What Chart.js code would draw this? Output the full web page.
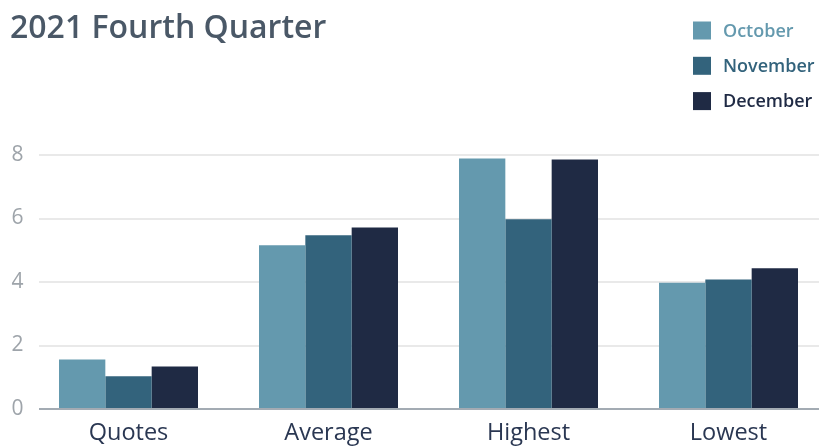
<!DOCTYPE html>
<html>
<head>
<meta charset="utf-8">
<script src="https://cdn.jsdelivr.net/npm/chart.js@4.4.0/dist/chart.umd.min.js"></script>
<style>
  html, body { margin: 0; padding: 0; background: #fff; overflow: hidden; }
  #wrap { width: 840px; height: 446px; }
</style>
</head>
<body>
<div id="wrap"><canvas id="q4-chart"></canvas></div>
<script>
// chart data
const categories = ['Quotes', 'Average', 'Highest', 'Lowest'];
const october = [1.56, 5.16, 7.89, 3.98];
const november = [1.03, 5.47, 5.98, 4.08];
const december = [1.34, 5.72, 7.86, 4.43];
const yTicks = [0, 2, 4, 6, 8];

const FONT = '"Open Sans", "Noto Sans", sans-serif';

// grid lines start a bit right of the plot's left edge, like the original
const gridPlugin = {
  id: 'customGrid',
  beforeDatasetsDraw(chart) {
    const { ctx, chartArea, scales } = chart;
    ctx.save();
    ctx.strokeStyle = '#e9e9e9';
    ctx.lineWidth = 2;
    yTicks.forEach(v => {
      if (v === 0) return;
      const y = Math.round(scales.y.getPixelForValue(v));
      ctx.beginPath();
      ctx.moveTo(39, y);
      ctx.lineTo(chartArea.right, y);
      ctx.stroke();
    });
    ctx.restore();
  },
  afterDatasetsDraw(chart) {
    const { ctx, chartArea, scales } = chart;
    const y = Math.round(scales.y.getPixelForValue(0));
    ctx.save();
    ctx.strokeStyle = '#a3abb3';
    ctx.lineWidth = 2;
    ctx.beginPath();
    ctx.moveTo(39, y);
    ctx.lineTo(chartArea.right, y);
    ctx.stroke();
    ctx.restore();
  }
};

// stacked legend in the top right corner
const legendPlugin = {
  id: 'stackLegend',
  afterDraw(chart) {
    const { ctx } = chart;
    ctx.save();
    ctx.font = '600 18px ' + FONT;
    ctx.textBaseline = 'middle';
    ctx.textAlign = 'left';
    chart.data.datasets.forEach((ds, i) => {
      const cy = 30.5 + i * 35.3;
      ctx.fillStyle = ds.backgroundColor;
      ctx.fillRect(693, cy - 9, 18, 18);
      ctx.fillText(ds.label, 723, cy + 1);
    });
    ctx.restore();
  }
};

new Chart(document.getElementById('q4-chart'), {
  type: 'bar',
  data: {
    labels: categories,
    datasets: [
      { label: 'October', data: october, backgroundColor: '#6499ae' },
      { label: 'November', data: november, backgroundColor: '#33637c' },
      { label: 'December', data: december, backgroundColor: '#1f2a44' }
    ]
  },
  options: {
    responsive: true,
    maintainAspectRatio: false,
    animation: false,
    layout: { padding: { left: 10, right: 11.5, top: 0, bottom: 0 } },
    datasets: {
      bar: { categoryPercentage: 0.695, barPercentage: 1.0, borderWidth: 0 }
    },
    plugins: {
      legend: { display: false },
      tooltip: { enabled: false },
      title: {
        display: true,
        text: '2021 Fourth Quarter',
        align: 'start',
        color: '#4a5867',
        font: { family: FONT, size: 32, weight: '600', lineHeight: 1.2 },
        padding: { top: 10, bottom: 106.6 }
      }
    },
    scales: {
      x: {
        grid: { display: false, drawTicks: false },
        border: { display: false },
        ticks: {
          color: '#2a3752',
          padding: 10,
          font: { family: FONT, size: 23.5 }
        },
        afterFit(scale) { scale.height = 37; }
      },
      y: {
        min: 0,
        max: 8,
        grid: { display: false, drawTicks: false },
        border: { display: false },
        ticks: {
          stepSize: 2,
          color: '#9ea4aa',
          padding: 5,
          font: { family: FONT, size: 21 }
        },
        afterFit(scale) { scale.width = 18.5; }
      }
    }
  },
  plugins: [gridPlugin, legendPlugin]
});
</script>
</body>
</html>
